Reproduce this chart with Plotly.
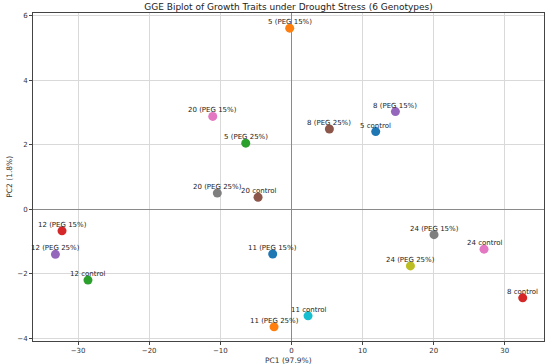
import plotly.graph_objects as go

# Data
labels = ["5 control", "5 (PEG 15%)", "5 (PEG 25%)",
          "8 control", "8 (PEG 15%)", "8 (PEG 25%)",
          "24 control", "24 (PEG 15%)", "24 (PEG 25%)",
          "11 control", "11 (PEG 15%)", "11 (PEG 25%)",
          "12 control", "12 (PEG 15%)", "12 (PEG 25%)",
          "20 control", "20 (PEG 15%)", "20 (PEG 25%)"]
pc1 = [11.85, -0.24, -6.42,
       32.52, 14.62, 5.34,
       27.08, 20.05, 16.73,
       2.34, -2.63, -2.44,
       -28.6, -32.25, -33.18,
       -4.69, -11.06, -10.42]
pc2 = [2.41, 5.62, 2.05,
       -2.75, 3.03, 2.49,
       -1.24, -0.79, -1.76,
       -3.31, -1.39, -3.65,
       -2.20, -0.67, -1.40,
       0.37, 2.88, 0.50]
x_ticks = [-30, -20, -10, 0, 10, 20, 30]
y_ticks = [-4, -2, 0, 2, 4, 6]
title_text = "GGE Biplot of Growth Traits under Drought Stress (6 Genotypes)"
x_title = "PC1 (97.9%)"
y_title = "PC2 (1.8%)"

tab10 = ["#1f77b4", "#ff7f0e", "#2ca02c", "#d62728", "#9467bd",
         "#8c564b", "#e377c2", "#7f7f7f", "#bcbd22", "#17becf"]

FONT = "DejaVu Sans"
W, H = 550, 364
L, R, T, B = 33, 6, 13, 23
plot_h = H - T - B
plot_w = W - L - R

fig = go.Figure()
for i, (lab, x, y) in enumerate(zip(labels, pc1, pc2)):
    fig.add_trace(go.Scatter(
        x=[x], y=[y], mode="markers", name=lab,
        marker=dict(size=9, color=tab10[i % 10], line=dict(width=0)),
        showlegend=False))
    fig.add_annotation(x=x, y=y, text=lab, showarrow=False, yshift=6,
                       font=dict(family=FONT, size=7, color="#222"))

# axis titles placed as annotations (pixel-matched)
fig.add_annotation(xref="paper", yref="paper", x=0.5, y=-(360 - (H - B)) / plot_h,
                   text=x_title, showarrow=False, xanchor="center", yanchor="middle",
                   font=dict(family=FONT, size=7.5, color="#333"))
fig.add_annotation(xref="paper", yref="paper", x=(8.7 - L) / plot_w, y=0.5,
                   text=y_title, showarrow=False, textangle=-90,
                   xanchor="center", yanchor="middle",
                   font=dict(family=FONT, size=7.5, color="#333"))

axis_common = dict(
    showgrid=True, gridcolor="#d9d9d9", gridwidth=1,
    zeroline=True, zerolinecolor="#8a8a8a", zerolinewidth=0.8,
    showline=True, linecolor="#444", linewidth=1, mirror=True,
    ticks="outside", ticklen=3, tickwidth=0.8, tickcolor="#444",
    tickfont=dict(family=FONT, size=7, color="#333"),
    automargin=False,
)

fig.update_layout(
    width=W, height=H,
    margin=dict(l=L, r=R, t=T, b=B, autoexpand=False),
    paper_bgcolor="white", plot_bgcolor="white",
    title=dict(text=title_text, xref="paper",
               x=0.5, xanchor="center", y=1 - 7 / H, yanchor="middle",
               font=dict(family=FONT, size=9, color="#222")),
    xaxis=dict(range=[-36.33, 35.51], tickvals=x_ticks, **axis_common),
    yaxis=dict(range=[-4.09, 6.09], tickvals=y_ticks, **axis_common),
)

fig.write_html(
    "out.html",
    config={"displayModeBar": False},
    post_script="document.body.style.margin='0';document.body.style.overflow='hidden';",
)
